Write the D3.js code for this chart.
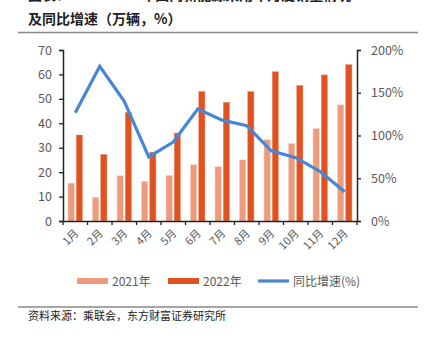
<!DOCTYPE html>
<html><head><meta charset="utf-8">
<script src="https://cdn.jsdelivr.net/npm/d3@7/dist/d3.min.js"></script>
<style>body{margin:0;background:#fff}svg{display:block}text{font-family:"Noto Sans CJK SC","Noto Sans",sans-serif}</style>
</head><body><svg id="c" width="426" height="344"></svg>
<script>
const categories = ["1月","2月","3月","4月","5月","6月","7月","8月","9月","10月","11月","12月"];
const sales2021 = [15.5, 9.6, 18.5, 16.1, 18.6, 23.0, 22.2, 25.0, 33.3, 31.7, 37.8, 47.5];
const sales2022 = [35.2, 27.3, 44.5, 28.2, 36.0, 53.0, 48.6, 53.0, 61.1, 55.5, 59.8, 64.0];
const growth = [126.7, 181, 140, 75, 92.4, 131, 118, 111.5, 82, 74, 57.7, 34.3];
const leftTicks = [0,10,20,30,40,50,60,70];
const rightTicks = [0,50,100,150,200];
const legendLabels = ["2021年","2022年","同比增速(%)"];
const titleLine1 = "图表：2021-2022年国内新能源乘用车月度销量情况";
const titleLine2 = "及同比增速（万辆，%）";
const source = "资料来源：乘联会，东方财富证券研究所";

const svg = d3.select("#c");
const L = 63, R = 357, T = 50, B = 221;
const c2021 = "#EE9A7C", c2022 = "#E0521F", cLine = "#4A86D6", grey = "#595959";

const x = d3.scaleBand().domain(categories).range([L, R]);
const yL = d3.scaleLinear().domain([0,70]).range([B, T]);
const yR = d3.scaleLinear().domain([0,200]).range([B, T]);

// title (first line is cropped at the top edge in the reference)
svg.append("text").attr("x",28).attr("y",-0.5).attr("font-size",14).attr("font-weight","bold").attr("fill","#222").text(titleLine1);
svg.append("text").attr("x",28).attr("y",24).attr("font-size",14).attr("font-weight","bold").attr("fill","#222").text(titleLine2);
svg.append("line").attr("x1",18).attr("x2",418).attr("y1",32.5).attr("y2",32.5).attr("stroke","#888").attr("stroke-width",1.5);

// bars
const bw = 6.2;
const g = svg.append("g");
categories.forEach((c,i)=>{
  const cx = x(c) + x.bandwidth()/2;
  g.append("rect").attr("x",cx-bw-1).attr("width",bw).attr("y",yL(sales2021[i])).attr("height",B-yL(sales2021[i])).attr("fill",c2021).attr("stroke","#F6C7B5").attr("stroke-width",0.5);
  g.append("rect").attr("x",cx+1).attr("width",bw).attr("y",yL(sales2022[i])).attr("height",B-yL(sales2022[i])).attr("fill",c2022).attr("stroke","#F09070").attr("stroke-width",0.5);
});

// line
const line = d3.line().x((d,i)=>x(categories[i])+x.bandwidth()/2).y(d=>yR(d));
svg.append("path").datum(growth).attr("d",line).attr("fill","none").attr("stroke",cLine).attr("stroke-width",3.2).attr("stroke-linejoin","miter");

// axes
const axL = svg.append("g").attr("transform",`translate(${L},0)`).call(d3.axisLeft(yL).tickValues(leftTicks).tickSize(4).tickPadding(7));
const axR = svg.append("g").attr("transform",`translate(${R},0)`).call(d3.axisRight(yR).tickValues(rightTicks).tickSize(4).tickPadding(10).tickFormat(d=>d+"%"));
const axX = svg.append("g").attr("transform",`translate(0,${B})`).call(d3.axisBottom(x).tickSize(0).tickPadding(0));
[axL,axR].forEach(a=>{
  a.select(".domain").attr("stroke","#222").attr("stroke-width",1.5);
  a.selectAll(".tick line").attr("stroke","#222").attr("stroke-width",1.3);
  a.selectAll("text").attr("font-size",12.5).attr("fill",grey).attr("font-family","Liberation Sans, Arial, sans-serif");
});
axX.select(".domain").attr("stroke","#222").attr("stroke-width",1.5);
// band boundary ticks
const bounds = categories.map(c=>x(c)).concat([R]);
axX.selectAll(".bt").data(bounds).enter().append("line").attr("x1",d=>d).attr("x2",d=>d).attr("y1",0).attr("y2",4).attr("stroke","#222").attr("stroke-width",1.3);
axX.selectAll(".tick text").attr("font-size",11).attr("fill",grey)
  .attr("text-anchor","end").attr("dy",0)
  .attr("transform","translate(4,13) rotate(-45)");

// legend
const ly = 281;
const leg = [[77,c2021,legendLabels[0],6],[168,c2022,legendLabels[1],6],[258,cLine,legendLabels[2],3.2]];
leg.forEach(([lx,col,lab,h])=>{
  svg.append("line").attr("x1",lx).attr("x2",lx+31).attr("y1",ly).attr("y2",ly).attr("stroke",col).attr("stroke-width",h);
  svg.append("text").attr("x",lx+35).attr("y",ly+4.5).attr("font-size",12).attr("fill",grey).text(lab);
});

// footer
svg.append("line").attr("x1",18).attr("x2",418).attr("y1",307).attr("y2",307).attr("stroke","#888").attr("stroke-width",1.5);
svg.append("text").attr("x",28).attr("y",320).attr("font-size",11).attr("fill","#222").text(source);
</script></body></html>
